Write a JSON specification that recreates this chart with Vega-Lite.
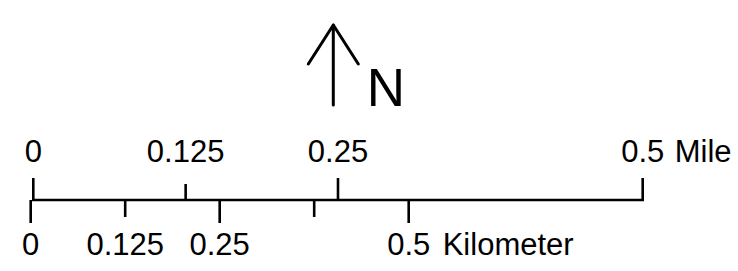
{
  "$schema": "https://vega.github.io/schema/vega-lite/v6.json",
  "width": 738,
  "height": 271,
  "padding": 0,
  "autosize": "none",
  "config": {
    "view": {"stroke": null},
    "text": {"font": "Liberation Sans", "fontSize": 31, "color": "black"}
  },
  "datasets": {
    "mile": [
      {"value": 0, "label": "0", "major": true, "unit": null},
      {"value": 0.125, "label": "0.125", "major": false, "unit": null},
      {"value": 0.25, "label": "0.25", "major": true, "unit": null},
      {"value": 0.5, "label": "0.5", "major": true, "unit": "Mile"}
    ],
    "km": [
      {"value": 0, "label": "0", "major": true, "unit": null},
      {"value": 0.125, "label": "0.125", "major": false, "unit": null},
      {"value": 0.25, "label": "0.25", "major": true, "unit": null},
      {"value": 0.375, "label": "", "major": false, "unit": null},
      {"value": 0.5, "label": "0.5", "major": true, "unit": "Kilometer"}
    ],
    "arrow": [
      {"seg": "head", "i": 0, "u": -1, "v": 136},
      {"seg": "head", "i": 1, "u": 0, "v": 175},
      {"seg": "head", "i": 2, "u": 1, "v": 136},
      {"seg": "shaft", "i": 0, "u": 0, "v": 175},
      {"seg": "shaft", "i": 1, "u": 0, "v": 95}
    ],
    "north": [{"label": "N", "u": 1.34, "v": 94}]
  },
  "resolve": {"scale": {"x": "independent"}},
  "layer": [
    {
      "data": {"name": "mile"},
      "layer": [
        {
          "transform": [{"filter": "datum.value == 0.5"}],
          "mark": {"type": "rule", "strokeWidth": 2.6, "color": "black", "strokeCap": "square"},
          "encoding": {
            "x": {"field": "value", "type": "quantitative", "scale": {"domain": [-0.02732, 0.5782], "nice": false, "zero": false}, "axis": null},
            "x2": {"datum": 0},
            "y": {"datum": 0, "type": "quantitative", "scale": {"domain": [-71, 200], "nice": false, "zero": false}, "axis": null}
          }
        },
        {
          "transform": [{"filter": "datum.major"}],
          "mark": {"type": "rule", "strokeWidth": 2.6, "color": "black"},
          "encoding": {
            "x": {"field": "value", "type": "quantitative", "axis": null},
            "y": {"datum": 0, "type": "quantitative", "axis": null},
            "y2": {"datum": 22}
          }
        },
        {
          "transform": [{"filter": "!datum.major"}],
          "mark": {"type": "rule", "strokeWidth": 2.6, "color": "black"},
          "encoding": {
            "x": {"field": "value", "type": "quantitative", "axis": null},
            "y": {"datum": 0, "type": "quantitative", "axis": null},
            "y2": {"datum": 16}
          }
        },
        {
          "mark": {"type": "text", "align": "center", "baseline": "alphabetic"},
          "encoding": {
            "x": {"field": "value", "type": "quantitative", "axis": null},
            "y": {"datum": 38, "type": "quantitative", "axis": null},
            "text": {"field": "label", "type": "nominal"}
          }
        },
        {
          "transform": [{"filter": "datum.unit != null"}],
          "mark": {"type": "text", "align": "left", "baseline": "alphabetic", "dx": 32},
          "encoding": {
            "x": {"field": "value", "type": "quantitative", "axis": null},
            "y": {"datum": 38, "type": "quantitative", "axis": null},
            "text": {"field": "unit", "type": "nominal"}
          }
        }
      ]
    },
    {
      "data": {"name": "km"},
      "layer": [
        {
          "transform": [{"filter": "datum.major"}],
          "mark": {"type": "rule", "strokeWidth": 2.6, "color": "black"},
          "encoding": {
            "x": {"field": "value", "type": "quantitative", "scale": {"domain": [-0.0406, 0.9356], "nice": false, "zero": false}, "axis": null},
            "y": {"datum": 0, "type": "quantitative", "axis": null},
            "y2": {"datum": -23}
          }
        },
        {
          "transform": [{"filter": "!datum.major"}],
          "mark": {"type": "rule", "strokeWidth": 2.6, "color": "black"},
          "encoding": {
            "x": {"field": "value", "type": "quantitative", "axis": null},
            "y": {"datum": 0, "type": "quantitative", "axis": null},
            "y2": {"datum": -17}
          }
        },
        {
          "mark": {"type": "text", "align": "center", "baseline": "alphabetic"},
          "encoding": {
            "x": {"field": "value", "type": "quantitative", "axis": null},
            "y": {"datum": -54.5, "type": "quantitative", "axis": null},
            "text": {"field": "label", "type": "nominal"}
          }
        },
        {
          "transform": [{"filter": "datum.unit != null"}],
          "mark": {"type": "text", "align": "left", "baseline": "alphabetic", "dx": 34},
          "encoding": {
            "x": {"field": "value", "type": "quantitative", "axis": null},
            "y": {"datum": -54.5, "type": "quantitative", "axis": null},
            "text": {"field": "unit", "type": "nominal"}
          }
        }
      ]
    },
    {
      "layer": [
        {
          "data": {"name": "arrow"},
          "mark": {"type": "line", "strokeWidth": 3, "color": "black", "strokeCap": "round", "strokeJoin": "round"},
          "encoding": {
            "x": {"field": "u", "type": "quantitative", "scale": {"domain": [-13.332, 16.188], "nice": false, "zero": false}, "axis": null},
            "y": {"field": "v", "type": "quantitative", "axis": null},
            "detail": {"field": "seg", "type": "nominal"},
            "order": {"field": "i", "type": "quantitative"}
          }
        },
        {
          "data": {"name": "north"},
          "mark": {"type": "text", "align": "left", "baseline": "alphabetic", "fontSize": 53},
          "encoding": {
            "x": {"field": "u", "type": "quantitative", "axis": null},
            "y": {"field": "v", "type": "quantitative", "axis": null},
            "text": {"field": "label", "type": "nominal"}
          }
        }
      ]
    }
  ]
}
